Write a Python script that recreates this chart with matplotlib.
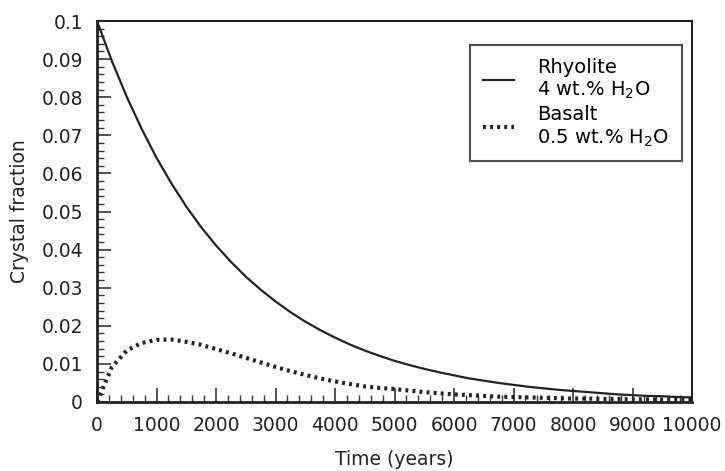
import matplotlib
matplotlib.use("Agg")
import matplotlib.pyplot as plt
from matplotlib.ticker import MultipleLocator, FuncFormatter

plt.rcParams['font.family'] = ['DejaVu Sans']

# time axis (years)
time = [0, 250, 500, 750, 1000, 1250, 1500, 1750, 2000, 2250, 2500, 2750,
        3000, 3250, 3500, 3750, 4000, 4250, 4500, 4750, 5000, 5250, 5500,
        5750, 6000, 6250, 6500, 6750, 7000, 7250, 7500, 7750, 8000, 8250,
        8500, 8750, 9000, 9250, 9500, 9750, 10000]

rhyolite = [0.1, 0.0895, 0.0801, 0.0717, 0.0641, 0.0574, 0.0513, 0.0459,
            0.0411, 0.0368, 0.0329, 0.0295, 0.0264, 0.0236, 0.0211, 0.0189,
            0.0169, 0.0151, 0.0135, 0.0121, 0.0108, 0.0097, 0.0087, 0.0078,
            0.0070, 0.0062, 0.0056, 0.0050, 0.0045, 0.0040, 0.0036, 0.0032,
            0.0029, 0.0026, 0.0023, 0.0020, 0.0018, 0.0016, 0.0015, 0.0013,
            0.0012]

basalt = [0.0, 0.0092, 0.0135, 0.0155, 0.0163, 0.0164, 0.0158, 0.0150,
          0.0139, 0.0128, 0.0116, 0.0104, 0.0092, 0.0081, 0.0071, 0.0062,
          0.0054, 0.0047, 0.0041, 0.0037, 0.0034, 0.0030, 0.0026, 0.0023,
          0.0020, 0.0018, 0.0016, 0.0014, 0.0013, 0.0012, 0.0011, 0.0010,
          0.0009, 0.0009, 0.0008, 0.0008, 0.0007, 0.0007, 0.0006, 0.0006,
          0.0005]

labels = ['Rhyolite\n4 wt.% H$_\\mathregular{2}$O',
          'Basalt\n0.5 wt.% H$_\\mathregular{2}$O']

fig = plt.figure(figsize=(7.25, 4.71), dpi=100)
ax = fig.add_axes([0.1338, 0.1465, 0.8207, 0.8089])

ax.plot(time, rhyolite, color='#222222', lw=1.6, label=labels[0])
ax.plot(time, basalt, color='#222222', lw=3.0, linestyle=(0, (0.7, 1.0)),
        label=labels[1])

ax.set_xlim(0, 10000)
ax.set_ylim(0, 0.1)
ax.xaxis.set_major_locator(MultipleLocator(1000))
ax.xaxis.set_minor_locator(MultipleLocator(200))
ax.yaxis.set_major_locator(MultipleLocator(0.01))
ax.yaxis.set_minor_locator(MultipleLocator(0.002))
ax.yaxis.set_major_formatter(FuncFormatter(lambda v, p: '%g' % round(v, 3)))

ax.tick_params(which='both', direction='in', top=False, right=False,
               labelsize=13.5, color='#333333', labelcolor='#222222')
ax.tick_params(which='major', length=10, width=1.2, pad=10)
ax.tick_params(which='minor', length=5, width=1.0)

for side in ['left', 'bottom']:
    ax.spines[side].set_linewidth(2.0)
for side in ['top', 'right']:
    ax.spines[side].set_linewidth(1.5)
for sp in ax.spines.values():
    sp.set_color('#222222')

ax.set_xlabel('Time (years)', fontsize=13.5, labelpad=11, color='#222222')
ax.set_ylabel('Crystal fraction', fontsize=13.5, labelpad=9, color='#222222')

leg = ax.legend(loc='upper right', bbox_to_anchor=(0.983, 0.937),
                borderaxespad=0, fontsize=14, frameon=True, fancybox=False,
                handlelength=1.6, labelspacing=0.2, borderpad=0.65,
                handletextpad=1.2)
leg.get_frame().set_edgecolor('#222222')
leg.get_frame().set_linewidth(1.5)

fig.savefig('out.png', dpi=100)
